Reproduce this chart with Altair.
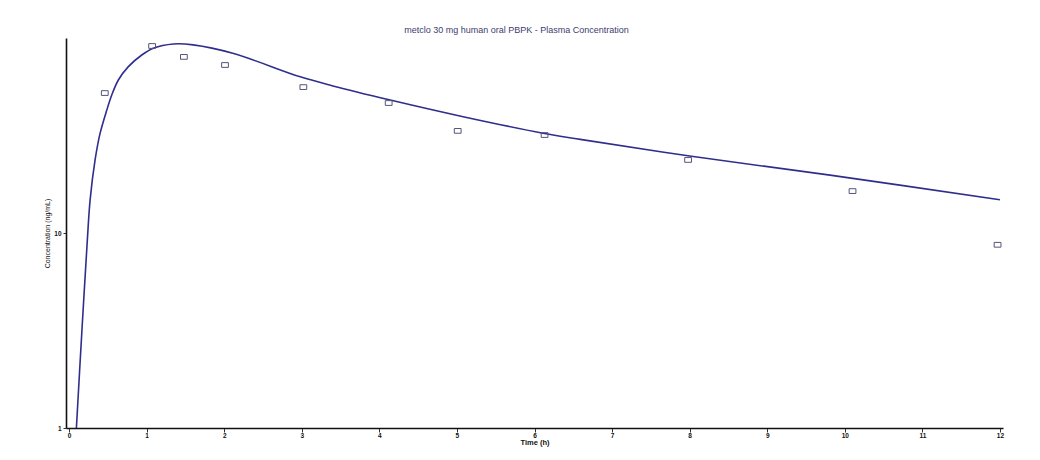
import altair as alt
import pandas as pd

# Observed plasma concentrations (open squares)
obs_time = [0.46, 1.07, 1.48, 2.01, 3.02, 4.12, 5.01, 6.13, 7.98, 10.1, 11.97]
obs_conc = [52.2, 91.0, 80.0, 72.7, 56.0, 46.4, 33.4, 31.8, 23.7, 16.4, 8.7]

# Simulated PBPK curve
sim_time = [0.094, 0.166, 0.235, 0.271, 0.335, 0.40, 0.486, 0.55, 0.635, 0.764,
            0.937, 1.086, 1.344, 1.6, 2.11, 2.98, 3.4, 4.14, 5.08, 6.11, 6.59,
            8.0, 9.81, 12.0]
sim_conc = [1.0, 3.2, 9.2, 14.8, 23.7, 32.5, 42.7, 51.0, 60.9, 71.3,
            81.8, 88.6, 93.2, 92.2, 83.5, 63.2, 56.8, 48.1, 39.5, 32.5, 30.2,
            24.8, 19.8, 14.8]

x_tick_values = [i / 4 for i in range(49)]
y_tick_values = [1, 10]

obs = pd.DataFrame({"t": obs_time, "c": obs_conc})
sim = pd.DataFrame({"t": sim_time, "c": sim_conc})

FONT = "Liberation Sans"

x_enc = alt.X(
    "t:Q",
    scale=alt.Scale(domain=[-0.04, 12.04], nice=False, zero=False),
    axis=alt.Axis(
        title="Time (h)",
        values=x_tick_values,
        format="d",
        labelExpr="datum.value % 1 === 0 ? datum.label : ''",
        labelOverlap=False,
        tickSize={"condition": {"test": "datum.value % 1 === 0", "value": 4}, "value": 3},
        labelPadding=0,
        titleFontWeight="bold",
        titleFontSize=7.5,
        titlePadding=0,
    ),
)
y_enc = alt.Y(
    "c:Q",
    scale=alt.Scale(type="log", domain=[1, 100], nice=False),
    axis=alt.Axis(
        title="Concentration (ng/mL)",
        values=y_tick_values,
        format="d",
        tickSize=3,
        labelPadding=2,
        titleFontWeight="normal",
        titleFontSize=7,
        titlePadding=3,
    ),
)

line = alt.Chart(sim).mark_line(
    color="#2e2e8c", strokeWidth=1.6, interpolate="catmull-rom", clip=True
).encode(x=x_enc, y=y_enc)

pts = alt.Chart(obs).mark_point(
    shape="M-1,-0.7L1,-0.7L1,0.7L-1,0.7Z",
    size=46,
    filled=False,
    stroke="#555578",
    strokeWidth=1,
    opacity=1,
).encode(x="t:Q", y="c:Q")

chart = (
    alt.layer(line, pts)
    .properties(
        width=937,
        height=390,
        autosize=alt.AutoSizeParams(type="none"),
        padding={"left": 58, "top": 30, "right": 29, "bottom": 20},
        title=alt.TitleParams(
            text="metclo 30 mg human oral PBPK - Plasma Concentration",
            font=FONT,
            fontSize=9,
            fontWeight="normal",
            color="#3c3c6e",
            anchor="middle",
            offset=3,
            dx=-18,
        ),
    )
    .configure_view(stroke=None)
    .configure_axis(
        grid=False,
        domainColor="#111111",
        domainWidth=1.6,
        tickColor="#333333",
        tickWidth=1,
        labelFont=FONT,
        labelFontWeight="bold",
        labelFontSize=6.5,
        labelColor="#111111",
        titleFont=FONT,
        titleColor="#111111",
    )
)

chart.save("out.html", embed_options={"renderer": "svg", "actions": False})
